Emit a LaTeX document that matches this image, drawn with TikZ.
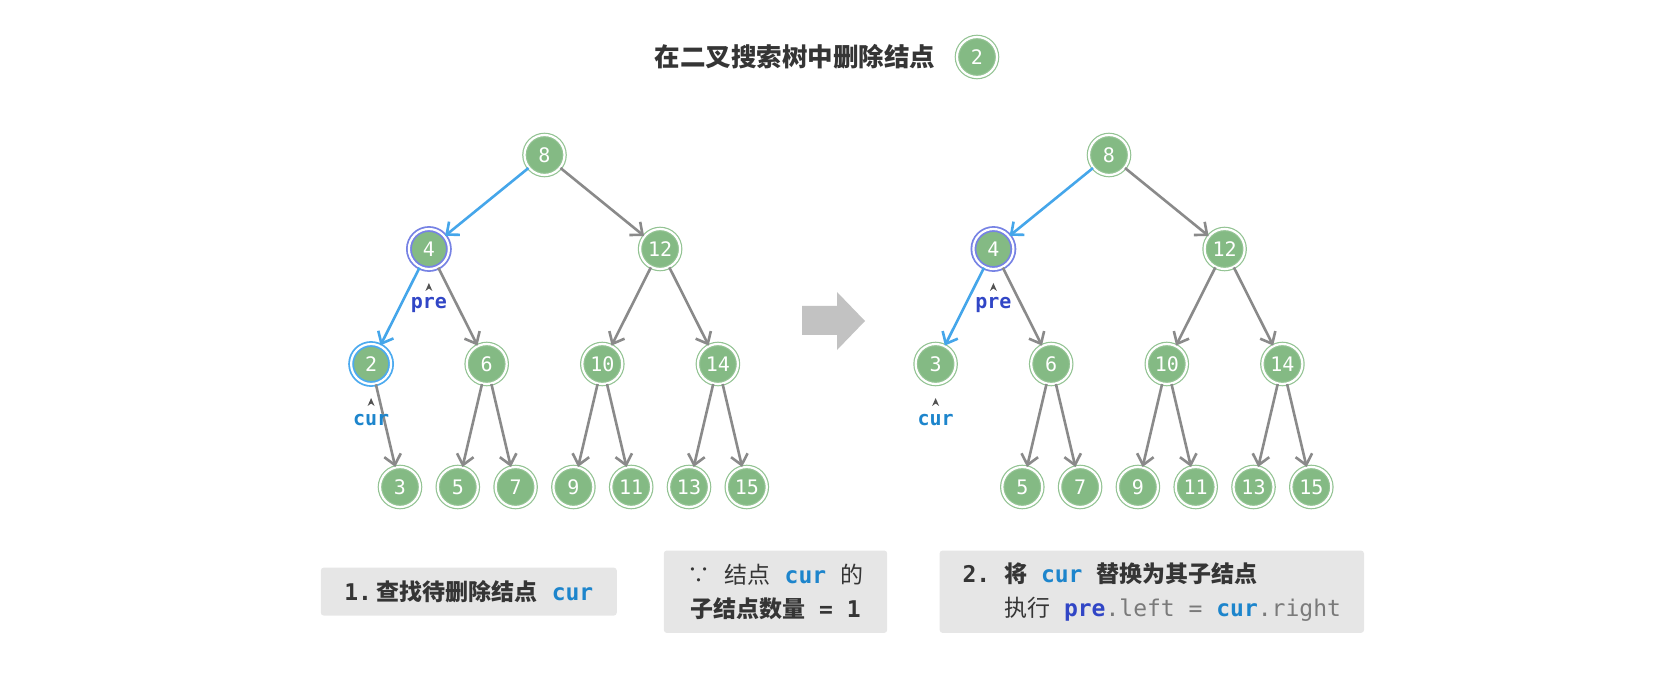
\documentclass[tikz,border=0pt]{standalone}
\usepackage{fontspec}
\setmainfont{Noto Sans CJK SC}
\setmonofont{DejaVu Sans Mono}
\usepackage{tikz}
\usetikzlibrary{arrows.meta}
\definecolor{leaf}{HTML}{84BA84}
\definecolor{leafrim}{HTML}{93C393}
\definecolor{wire}{HTML}{8A8A8A}
\definecolor{trail}{HTML}{45A6EA}
\definecolor{prering}{HTML}{7682E4}
\definecolor{curring}{HTML}{4CAAEF}
\definecolor{precol}{HTML}{3146C6}
\definecolor{curcol}{HTML}{1D85CC}
\definecolor{card}{HTML}{E6E6E6}
\definecolor{ink}{HTML}{353535}
\definecolor{soft}{HTML}{7A7A7A}
\definecolor{bigarrow}{HTML}{C2C2C2}
\newcommand{\curtt}{\textbf{\texttt{\color{curcol}cur}}}
\newcommand{\prett}{\textbf{\texttt{\color{precol}pre}}}
\newcommand{\msp}{\texttt{\ }}

\begin{document}
\begin{tikzpicture}[x=0.5pt,y=-0.5pt,>={Straight Barb[length=5pt,width=8.5pt]},
  tnode/.style={circle,minimum size=20pt,inner sep=0pt,fill=leaf,draw=leafrim,line width=0.6pt,
    double=white,double distance=1.1pt,text=white,font=\ttfamily\fontsize{10}{10}\selectfont},
  prenode/.style={draw=prering,line width=0.9pt},
  curnode/.style={draw=curring,line width=0.9pt},
  link/.style={->,wire,line width=1.3pt},
  hop/.style={->,trail,line width=1.3pt},
  ptr/.style={inner sep=0pt,font=\ttfamily\bfseries\fontsize{10}{10}\selectfont},
  chev/.style={fill=ink!85},
  note/.style={fill=card,rounded corners=1.5pt,inner sep=0pt,text=ink,font=\fontsize{11.5}{17}\selectfont}]
  \useasboundingbox (0,0) rectangle (1676,700);
  \node[text=ink,font=\bfseries\fontsize{12.75}{14}\selectfont] (title) at (795,57) {在二叉搜索树中删除结点};
  \node[tnode] (titlekey) at (977,57) {2};
  \node[tnode] (L8) at (544.5,155) {8};
  \node[tnode,prenode] (L4) at (428.9,249) {4};
  \node[tnode] (L12) at (660.1,249) {12};
  \node[tnode,curnode] (L2) at (371.1,364) {2};
  \node[tnode] (L6) at (486.7,364) {6};
  \node[tnode] (L10) at (602.3,364) {10};
  \node[tnode] (L14) at (717.9,364) {14};
  \foreach \v/\x in {3/400,5/457.8,7/515.6,9/573.4,11/631.2,13/689,15/746.8}
    \node[tnode] (L\v) at (\x,487) {\v};
  \draw[hop] (L8) -- (L4);
  \draw[hop] (L4) -- (L2);
  \foreach \a/\b in {8/12,4/6,12/10,12/14,2/3,6/5,6/7,10/9,10/11,14/13,14/15}
    \draw[link] (L\a) -- (L\b);
  \node[tnode] (R8) at (1109,155) {8};
  \node[tnode,prenode] (R4) at (993.4,249) {4};
  \node[tnode] (R12) at (1224.6,249) {12};
  \node[tnode] (R3) at (935.6,364) {3};
  \node[tnode] (R6) at (1051.2,364) {6};
  \node[tnode] (R10) at (1166.8,364) {10};
  \node[tnode] (R14) at (1282.4,364) {14};
  \foreach \v/\x in {5/1022.3,7/1080.1,9/1137.9,11/1195.7,13/1253.5,15/1311.3}
    \node[tnode] (R\v) at (\x,487) {\v};
  \draw[hop] (R8) -- (R4);
  \draw[hop] (R4) -- (R3);
  \foreach \a/\b in {8/12,4/6,12/10,12/14,6/5,6/7,10/9,10/11,14/13,14/15}
    \draw[link] (R\a) -- (R\b);
  \foreach \n in {L4,L2,R4,R3}
    \fill[chev] (\n) ++(0,34) -- ++(3.5,8) -- ++(-3.5,-2.5) -- ++(-3.5,2.5) -- cycle;
  \node[ptr,text=precol] (Lpre) at ([yshift=-28pt]L4) {pre};
  \node[ptr,text=curcol] (Lcur) at ([yshift=-28pt]L2) {cur};
  \node[ptr,text=precol] (Rpre) at ([yshift=-28pt]R4) {pre};
  \node[ptr,text=curcol] (Rcur) at ([yshift=-28pt]R3) {cur};
  \fill[bigarrow] (802,306) -- (837,306) -- (837,292) -- (865,321) -- (837,350) -- (837,335) -- (802,335) -- cycle;
  \node[note,minimum width=148pt,minimum height=24pt] (stepA) at (468.8,591.6)
    {\bfseries\texttt{1.}\hspace{2.5pt}查找待删除结点\msp\curtt};
  \node[note,minimum width=111.7pt,minimum height=41.2pt,align=center] (rule) at (775.5,591.7)
    {∵\msp 结点\msp\curtt\msp 的\\ {\bfseries 子结点数量\texttt{\ =\ 1}}};
  \node[note,minimum width=212.2pt,minimum height=41.2pt,align=left] (stepB) at (1151.8,591.7)
    {{\bfseries\texttt{2.\ }将\msp\curtt\msp 替换为其子结点}\\
     \hphantom{\bfseries\texttt{2.\ }}执行\msp\prett\texttt{\color{soft}.left\ =\ }\curtt\texttt{\color{soft}.right}};
\end{tikzpicture}
\end{document}
